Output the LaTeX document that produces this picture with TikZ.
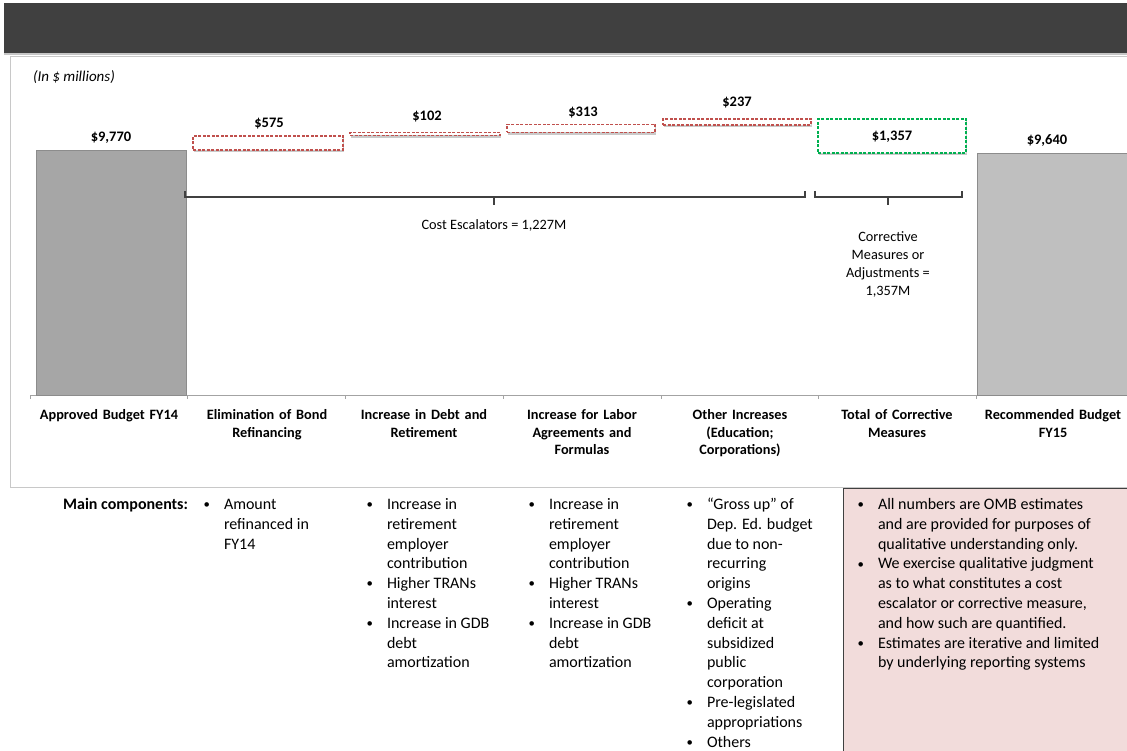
\documentclass[tikz,border=0pt]{standalone}
\usepackage{fontspec}
\setmainfont{Carlito}
\usetikzlibrary{shadows}
\definecolor{topbar}{HTML}{404040}
\definecolor{barA}{HTML}{A6A6A6}
\definecolor{barB}{HTML}{BFBFBF}
\definecolor{barEdge}{HTML}{8C8C8C}
\definecolor{redd}{HTML}{C0504D}
\definecolor{greend}{HTML}{00B050}
\definecolor{framec}{HTML}{C8C8C8}
\definecolor{pinkf}{HTML}{F2DCDB}
\definecolor{brk}{HTML}{404040}
\newcommand{\bu}{\strut\makebox[21pt][l]{\hspace{0.5pt}\raisebox{0.8pt}{\scalebox{0.8}{\textbullet}}}}
\newcommand{\ct}{\strut\hspace*{21pt}}
\begin{document}
\begin{tikzpicture}[x=1pt,y=-1pt,
  every node/.style={inner sep=0pt, outer sep=0pt},
  valbox/.style={draw=#1, dash pattern=on 3pt off 1.5pt, line width=1.4pt, fill=white,
     drop shadow={shadow xshift=1pt, shadow yshift=-2.5pt, opacity=0.35, fill=black!60}},
  vallbl/.style={font=\fontsize{14.5}{17}\selectfont\bfseries},
  catlbl/.style={font=\fontsize{14.3}{17.7}\selectfont\bfseries, align=center, text width=156pt, anchor=north, execute at begin node=\strut},
  brline/.style={draw=brk, line width=1.6pt},
  note/.style={font=\fontsize{14.3}{18}\selectfont, align=center},
  bullets/.style={font=\fontsize{16}{19.8}\selectfont, align=left, anchor=north west},
  budgetbar/.style={draw=barEdge, line width=0.8pt}
]
\useasboundingbox (0,0) rectangle (1127,751);
% top bar
\node[fill=topbar, minimum width=1125pt, minimum height=50pt, anchor=north west,
  drop shadow={shadow xshift=0pt, shadow yshift=-2.5pt, opacity=0.45, fill=black!50}] (title) at (4,3) {};
% frame
\draw[framec, line width=1pt] (10,57) rectangle (1135,487);
\node[font=\fontsize{15}{17}\selectfont\itshape, anchor=west] (unit) at (33,77) {(In \$ millions)};
% axis
\draw[draw=barEdge!80, line width=0.8pt] (30,395) -- (1127,395);
\foreach \i in {0,...,6} {\draw[draw=barEdge!80, line width=0.6pt] (30+157.7*\i,395) -- (30+157.7*\i,399);}
% bars
\node[budgetbar, fill=barA, minimum width=150pt, minimum height=245pt, anchor=north west] (bar1) at (36,150) {};
\node[budgetbar, fill=barB, minimum width=160pt, minimum height=242pt, anchor=north west] (bar2) at (977,153) {};
% floating boxes
\node[valbox=redd, minimum width=150pt, minimum height=14pt, anchor=north west] (b575) at (193,136) {};
\node[valbox=redd, minimum width=150pt, minimum height=3pt, anchor=north west] (b102) at (350,132.5) {};
\node[valbox=redd, minimum width=148pt, minimum height=8pt, anchor=north west] (b313) at (507,124.5) {};
\node[valbox=redd, minimum width=148pt, minimum height=6pt, anchor=north west] (b237) at (663,119) {};
\node[valbox=greend, minimum width=148pt, minimum height=34pt, anchor=north west] (b1357) at (818,119) {};
% value labels
\node[vallbl] (v9770) at (111,138) {\$9,770};
\node[vallbl] (v575) at (269,124) {\$575};
\node[vallbl] (v102) at (427,117) {\$102};
\node[vallbl] (v313) at (583,113) {\$313};
\node[vallbl] (v237) at (737,103) {\$237};
\node[vallbl] (v1357) at (892,137) {\$1,357};
\node[vallbl] (v9640) at (1047,141) {\$9,640};
% brackets
\draw[brline] (185,191) -- (185,197) -- (805,197) -- (805,191);
\draw[brline] (494,197) -- (494,205);
\draw[brline] (815,191) -- (815,197) -- (962,197) -- (962,191);
\draw[brline] (888,197) -- (888,205);
\node[note] (costesc) at (494,225) {Cost Escalators = 1,227M};
\node[note, anchor=north, execute at begin node=\strut] (corr) at (888,232) {Corrective\\Measures or\\Adjustments =\\1,357M};
% category labels
\node[catlbl] (c1) at (109,407) {Approved Budget FY14};
\node[catlbl] (c2) at (267,407) {Elimination of Bond\\Refinancing};
\node[catlbl] (c3) at (424,407) {Increase in Debt and\\Retirement};
\node[catlbl] (c4) at (582,407) {Increase for Labor\\Agreements and\\Formulas};
\node[catlbl] (c5) at (740,407) {Other Increases\\(Education;\\Corporations)};
\node[catlbl] (c6) at (897,407) {Total of Corrective\\Measures};
\node[catlbl] (c7) at (1053,407) {Recommended Budget\\FY15};
% pink box
\draw[fill=pinkf, draw=brk, line width=0.8pt] (843,488) rectangle (1135,760);
% main components
\node[font=\fontsize{16}{19.8}\selectfont\bfseries, anchor=north east] (mc) at (188,495.6) {\strut Main components:};
\node[bullets] (m2) at (203,495.6) {\bu Amount\\\ct refinanced in\\\ct FY14};
\node[bullets] (m3) at (366,495.6) {\bu Increase in\\\ct retirement\\\ct employer\\\ct contribution\\\bu Higher TRANs\\\ct interest\\\bu Increase in GDB\\\ct debt\\\ct amortization};
\node[bullets] (m4) at (528,495.6) {\bu Increase in\\\ct retirement\\\ct employer\\\ct contribution\\\bu Higher TRANs\\\ct interest\\\bu Increase in GDB\\\ct debt\\\ct amortization};
\node[bullets] (m5) at (686,495.6) {\bu “Gross up” of\\\ct Dep. Ed. budget\\\ct due to non-\\\ct recurring\\\ct origins\\\bu Operating\\\ct deficit at\\\ct subsidized\\\ct public\\\ct corporation\\\bu Pre-legislated\\\ct appropriations\\\bu Others};
\node[bullets] (m6) at (857,495.6) {\bu All numbers are OMB estimates\\\ct and are provided for purposes of\\\ct qualitative understanding only.\\\bu We exercise qualitative judgment\\\ct as to what constitutes a cost\\\ct escalator or corrective measure,\\\ct and how such are quantified.\\\bu Estimates are iterative and limited\\\ct by underlying reporting systems};
\end{tikzpicture}
\end{document}
